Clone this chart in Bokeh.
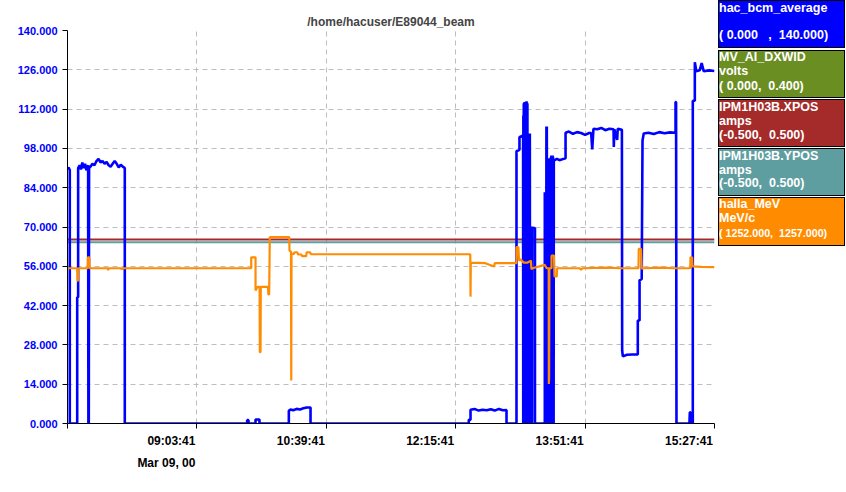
from bokeh.plotting import figure
from bokeh.models import Range1d, FixedTicker, NumeralTickFormatter, LinearAxis, Div
from bokeh.layouts import row
from bokeh.embed import file_html
from bokeh.resources import INLINE

FONT = "Liberation Sans"

# ---------------- data (time in minutes after 07:27:41, Mar 09) ----------------
title_text = "/home/hacuser/E89044_beam"
tick_minutes = [0, 96, 192, 288, 384, 480]
tick_labels = ["", "09:03:41", "10:39:41", "12:15:41", "13:51:41", "15:27:41"]
date_label = "Mar 09, 00"
y_ticks = [0, 14, 28, 42, 56, 70, 84, 98, 112, 126, 140]

# hac_bcm_average (0 .. 140)
bcm_t = [0, 0.8, 1.7, 1.7, 7.2, 7.2, 7.9, 7.9,
         9, 10, 11, 12, 13, 14, 15.3, 15.5, 15.8, 16.0,
         17, 18.5, 20, 21.5, 23, 24.5, 26, 27.5, 29, 30.5, 32, 33.5, 35, 36.5, 38, 39.5, 41, 42.5, 42.5,
         133.3, 133.3, 134.3, 134.3, 139.5, 139.5, 142.4, 142.4,
         164.2, 164.2, 165.5, 167.5, 170, 172.5, 175, 177.5, 180.3, 180.3,
         297.7, 297.7, 299, 299, 302, 305, 308, 311, 314, 317, 320, 323, 325.7, 325.7,
         333.1, 333.1, 335.3, 335.3, 338.0,
         338.1, 338.2, 338.35, 338.5, 338.65, 338.8, 338.95, 339.1, 339.25, 339.4, 339.55, 339.7, 339.85,
         340.0, 340.15, 340.3, 340.45, 340.6, 340.75, 340.9, 341.05, 341.2, 341.35, 341.5, 341.65, 341.8,
         341.95, 342.1, 342.25, 342.4, 342.55, 342.7, 342.85, 343.0, 343.15, 343.3, 343.45, 343.6, 343.75,
         343.9, 344.05, 344.2, 344.35, 344.5, 344.65, 344.8, 345.2, 346.8, 346.8,
         354.1, 354.1, 354.25, 354.4, 354.55, 354.7, 354.85, 355.0, 355.15, 355.3, 355.45, 355.6, 355.75,
         355.9, 356.05, 356.2, 356.35, 356.5, 356.65, 356.8, 357.0, 357.8, 357.95, 358.1, 358.25, 358.4,
         358.55, 358.7, 358.85, 359.0, 359.15, 359.3, 359.45, 359.6, 359.75, 359.9, 360.05, 360.2, 360.35,
         360.5, 360.65, 360.8, 361.1,
         363, 365, 367, 369.5, 369.5, 372, 375, 378, 381, 384, 387, 388.5, 389.3, 390.2, 393, 396, 399, 402,
         405.1, 405.3, 405.7, 407.8, 408.2, 411.3, 411.5, 412, 415, 419, 423.1, 423.1, 424.4, 424.4, 426,
         426.6, 427.5, 431, 435, 439, 443, 447, 451.1, 451.1, 451.5, 451.8, 461.4, 461.7, 462.2, 462.4,
         463.9, 463.9, 465.4, 465.4, 466.5, 469, 470.5, 472, 476, 480]
bcm_v = [90.5, 91.2, 90.3, 0, 0, 45, 45, 91,
         92, 90.5, 93, 91, 92.5, 90.2, 92, 0, 0, 91,
         91.5, 92.5, 92, 93.5, 94.3, 93, 93.5, 92.5, 93.2, 92, 91.5, 92.5, 93.5, 92.5, 91.2, 92.2, 91.5, 91, 0,
         0, 1.2, 1.2, 0, 0, 1.4, 1.4, 0,
         0, 4.5, 5.0, 4.7, 5.2, 5.0, 5.4, 5.7, 5.7, 0,
         0, 1.3, 1.3, 4.9, 5.2, 4.6, 4.9, 4.7, 5.1, 4.6, 5.2, 4.7, 4.8, 0,
         0, 97, 97.5, 102, 102.6,
         0, 109.7, 0, 114, 0, 114.2, 0, 114.5, 0, 114.5, 0, 113.8, 0,
         113.5, 0, 114.6, 0, 114.8, 0, 114.3, 0, 114, 0, 103.3, 0, 103.3,
         0, 103, 0, 103, 0, 103.3, 0, 103.3, 0, 70.2, 0, 70.2, 0,
         70.2, 0, 70.2, 0, 70, 0, 70, 69.6, 69.6, 0,
         0, 82.4, 0, 82.4, 0, 82, 0, 82, 0, 105.8, 0, 105.8, 0,
         60, 0, 60, 0, 94, 0, 94, 94, 94, 0, 94.5, 0, 94.5,
         0, 95, 0, 95.5, 0, 95.5, 0, 95.5, 0, 95.5, 0, 95, 0,
         94, 0, 94, 93.7,
         94.3, 93.8, 94.1, 94.5, 103.6, 104, 103.2, 103.8, 103.5, 102.8, 103.5, 103.5, 97.6, 105, 104.8, 105.3, 104.5, 105,
         104.8, 98.5, 104.8, 101, 105, 104.6, 26, 23.9, 24.5, 24.6, 24.6, 36.7, 36.7, 51, 51.5,
         100.8, 103.3, 103.6, 103.1, 103.8, 103.4, 103.7, 103.6, 114.5, 114.5, 0, 0, 4.0, 4.0, 0,
         0, 115, 115, 128.7, 125.5, 125.8, 128.4, 125.5, 125.8, 125.6]

# halla_MeV, drawn on the 0..140 strip scale (1252..1257 MeV/c)
mev_t = [0, 7.2, 7.4, 7.9, 8.0, 15.0, 15.1, 16.2, 16.3,
         30, 30.2, 30.6, 40, 40.2, 40.6,
         136.3, 136.3, 139.5, 139.5, 141, 142.5, 142.7, 143.2, 143.4, 148.8, 149.0, 149.6, 150.1, 164.5,
         164.7, 165.8, 166.0, 166.2, 168, 168.5, 170.5, 171, 173.5, 174, 177, 177.5, 180, 180.5,
         298.8, 299.0, 299.2, 310, 316.5, 317, 330, 333.1, 333.1, 334.5, 335.0, 336, 338.5, 341, 343.8,
         344.2, 345, 354, 355.5, 357.0, 357.1, 357.3, 357.5, 359.1, 359.1, 360.9, 361.3, 363, 363.2,
         380, 381, 382, 400, 410, 423.6, 423.8, 425.5, 426.0, 427, 440, 450, 462.0, 462.2, 463.4, 463.7,
         470, 480]
mev_v = [55.3, 55.3, 50.9, 50.9, 55.3, 55.3, 59.2, 59.2, 55.3,
         55.3, 54.6, 55.3, 55.3, 54.8, 55.3,
         55.3, 59.2, 59.2, 47.4, 48.7, 48.7, 25.4, 25.4, 48.7, 48.7, 46, 46, 66.4, 66.4,
         61.6, 61.2, 15.3, 60.4, 60.4, 61, 61, 60.2, 60.2, 59.6, 59.6, 61, 61, 60.3,
         60.3, 45.2, 57.3, 57.1, 55.9, 57.1, 57.1, 57.1, 62.8, 62.8, 58, 58.5, 57.3, 57.3, 58,
         55.0, 55.3, 56.5, 55.3, 55.3, 14.1, 16, 55.3, 55.3, 59.8, 59.8, 52.4, 52.4, 55.3,
         55.3, 54.8, 55.3, 55.5, 55.3, 55.3, 62.2, 62.2, 55.1, 55.3, 55.5, 55.3, 55.3, 59.2, 59.2, 56.0,
         55.8, 55.7]

# IPM1H03B.XPOS / YPOS, drawn on the strip scale
pos_t = [0, 480]
xpos_v = [65.55, 65.55]
ypos_v = [64.6, 64.6]

# legend entries
leg_names = ["hac_bcm_average", "MV_AI_DXWID", "IPM1H03B.XPOS", "IPM1H03B.YPOS", "halla_MeV"]
leg_units = ["", "volts", "amps", "amps", "MeV/c"]
leg_ranges = ["( 0.000   ,  140.000)", "( 0.000,  0.400)", "(-0.500,  0.500)",
              "(-0.500,  0.500)", "( 1252.000,  1257.000)"]
leg_colors = ["#0000ff", "#6b8e23", "#a52a2a", "#5f9ea0", "#ff8c00"]

# ---------------- main strip chart ----------------
MAIN_W, H = 717, 492
p = figure(width=MAIN_W, height=H, x_range=Range1d(0, 480), y_range=Range1d(0, 140),
           output_backend="svg", toolbar_location=None, title=title_text,
           min_border_left=67, min_border_right=3, min_border_top=30, min_border_bottom=69)
p.title.align = "center"
p.title.text_font = FONT
p.title.text_font_size = "12px"
p.title.text_font_style = "bold"
p.title.standoff = 4
p.outline_line_color = None
p.background_fill_color = "white"

p.yaxis.ticker = FixedTicker(ticks=y_ticks)
p.yaxis.formatter = NumeralTickFormatter(format="0.000")
p.yaxis.major_label_text_color = "#0000ff"
p.yaxis.major_label_text_font = FONT
p.yaxis.major_label_text_font_style = "bold"
p.yaxis.major_label_text_font_size = "11px"
p.yaxis.major_label_standoff = 5

p.xaxis.ticker = FixedTicker(ticks=tick_minutes)
p.xaxis.major_label_overrides = {t: "" for t in tick_minutes}
p.xaxis.major_label_text_font_size = "0px"
p.xaxis.major_label_standoff = 0
for ax in (p.xaxis, p.yaxis):
    ax.axis_line_color = "black"
    ax.axis_line_width = 1
    ax.major_tick_line_color = "black"
    ax.major_tick_out = 5
    ax.major_tick_in = 0
    ax.minor_tick_line_color = None

# time labels sit to the left of their tick (right-aligned): shifted label axes
frame_w = 647.0
min_per_px = 480 / frame_w
shift_time = 25.5 * min_per_px   # half the width of "hh:mm:ss" plus a small gap
shift_date = 30.5 * min_per_px   # half the width of the date label
p.extra_x_ranges = {"tlab": Range1d(shift_time, 480 + shift_time),
                    "dlab": Range1d(shift_date, 480 + shift_date)}

def label_axis(rng, ticks, overrides, standoff):
    ax = LinearAxis(x_range_name=rng, ticker=FixedTicker(ticks=ticks),
                    major_label_overrides=overrides)
    ax.axis_line_color = None
    ax.major_tick_line_color = None
    ax.minor_tick_line_color = None
    ax.major_tick_out = 0
    ax.major_tick_in = 0
    ax.major_label_standoff = standoff
    ax.major_label_text_font = FONT
    ax.major_label_text_font_style = "bold"
    ax.major_label_text_font_size = "12px"
    ax.major_label_text_color = "black"
    return ax

time_axis = label_axis("tlab", tick_minutes[1:], dict(zip(tick_minutes[1:], tick_labels[1:])), 5)
date_axis = label_axis("dlab", [tick_minutes[1]], {tick_minutes[1]: date_label}, 5)
p.add_layout(time_axis, "below")
p.add_layout(date_axis, "below")

p.xgrid.ticker = FixedTicker(ticks=tick_minutes[1:])
p.ygrid.ticker = FixedTicker(ticks=y_ticks[1:])
for g in (p.xgrid, p.ygrid):
    g.grid_line_color = "#bdbdbd"
    g.grid_line_dash = "5 4"
    g.grid_line_width = 1

p.line(pos_t, xpos_v, line_color=leg_colors[2], line_width=2)
p.line(pos_t, ypos_v, line_color=leg_colors[3], line_width=2)
p.line(bcm_t, bcm_v, line_color=leg_colors[0], line_width=2.6)
p.line(mev_t, mev_v, line_color=leg_colors[4], line_width=2.2)

# ---------------- legend panel (HTML boxes, like the StripTool legend) ----------------
box_top = [0, 50, 99, 148, 197]
box_h = [48, 48, 48, 48, 49]
line_center = [(8.3, None, 35), (57.3, 71, 86), (106.7, 120.7, 135), (155.7, 170, 183.3), (204, 218.3, 232.7)]
parts = []
for i in range(5):
    parts.append(
        f'<div style="position:absolute;left:1px;top:{box_top[i]}px;width:127px;height:{box_h[i]}px;'
        f'box-sizing:border-box;border:1px solid black;background:{leg_colors[i]};"></div>')
    c1, c2, c3 = line_center[i]
    lines = [(c1, leg_names[i], 12.5)]
    if leg_units[i]:
        lines.append((c2, leg_units[i], 12.5))
    lines.append((c3, leg_ranges[i], 10.7 if i == 4 else 12.5))
    for c, txt, fs in lines:
        parts.append(
            f'<div style="position:absolute;left:2px;top:{c - 7:.1f}px;height:14px;line-height:14px;'
            f'font-size:{fs}px;white-space:pre;">{txt}</div>')
legend_html = ('<div style="position:relative;width:129px;height:492px;font-family:\'Liberation Sans\';'
               'font-weight:bold;color:white;">' + "".join(parts) + '</div>')
legend = Div(text=legend_html, width=129, height=H, margin=0)

layout = row(p, legend)
open("out.html", "w").write(file_html(layout, INLINE))
